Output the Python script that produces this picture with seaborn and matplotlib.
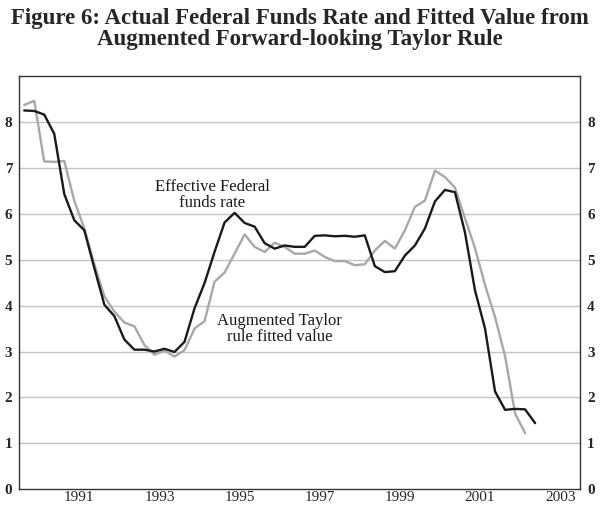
import pandas as pd
import matplotlib
matplotlib.use('Agg')
import matplotlib.pyplot as plt
import matplotlib.ticker as mtick
import seaborn as sns

# quarterly values, 1990Q1 onwards
fed_funds = [8.25, 8.24, 8.16, 7.74, 6.43, 5.86, 5.64, 4.82,
             4.02, 3.77, 3.26, 3.04, 3.04, 3.00, 3.06, 2.99,
             3.21, 3.94, 4.49, 5.17, 5.81, 6.02, 5.80, 5.72,
             5.36, 5.24, 5.31, 5.28, 5.28, 5.52, 5.53, 5.51,
             5.52, 5.50, 5.53, 4.86, 4.73, 4.75, 5.09, 5.31,
             5.68, 6.27, 6.52, 6.47, 5.59, 4.33, 3.50, 2.13,
             1.73, 1.75, 1.74, 1.44]
taylor_fit = [8.37, 8.46, 7.14, 7.13, 7.15, 6.28, 5.68, 4.90,
              4.20, 3.87, 3.63, 3.55, 3.14, 2.93, 3.02, 2.89,
              3.03, 3.50, 3.66, 4.52, 4.72, 5.13, 5.55, 5.28,
              5.17, 5.37, 5.28, 5.13, 5.13, 5.20, 5.06, 4.97,
              4.97, 4.88, 4.90, 5.20, 5.41, 5.24, 5.64, 6.15,
              6.29, 6.94, 6.80, 6.57, 5.90, 5.25, 4.45, 3.75,
              2.90, 1.65, 1.22]
start_quarter = '1990Q1'
year_labels = ['1991', '1993', '1995', '1997', '1999', '2001', '2003']

quarters = pd.period_range(start_quarter, periods=len(fed_funds), freq='Q')
df_ff = pd.DataFrame({'t': quarters.year + (quarters.quarter - 0.5) / 4, 'rate': fed_funds})
df_fit = pd.DataFrame({'t': df_ff['t'][:len(taylor_fit)], 'rate': taylor_fit})

sns.set_style('white')
plt.rcParams['font.family'] = ['Liberation Serif', 'DejaVu Serif']

fig = plt.figure(figsize=(6, 5.07), dpi=100)
ax = fig.add_axes([0.032, 0.035, 0.935, 0.815])

for y in range(1, 9):
    ax.axhline(y, color='#c4c4c4', linewidth=1.0, zorder=0)

sns.lineplot(data=df_fit, x='t', y='rate', color='#a8a8a8', linewidth=1.7, ax=ax)
sns.lineplot(data=df_ff, x='t', y='rate', color='#1a1a1a', linewidth=1.7, ax=ax)

ax.set_xlim(1990, 2004)
ax.set_ylim(0, 9)
ax.set_xlabel('')
ax.set_ylabel('')

# tick marks at year boundaries, labels centred in the year
ax.set_xticks(range(1991, 2004))
ax.set_xticklabels([])
ax.set_xticks([int(y) + 0.5 for y in year_labels], minor=True)
ax.set_xticklabels(year_labels, minor=True, fontsize=11)
ax.tick_params(axis='x', which='major', direction='in', length=8, width=1, color='#222222')
ax.tick_params(axis='x', which='minor', length=0, pad=1.5)

ax.set_yticks(range(0, 9))
ax.yaxis.set_major_formatter(mtick.FormatStrFormatter('%d'))
ax.tick_params(axis='y', length=0, pad=5, labelsize=11, labelright=True, right=True)
for lab in ax.get_yticklabels():
    lab.set_fontweight('bold')

for s in ax.spines.values():
    s.set_color('#333333')
    s.set_linewidth(1.0)

ax.text(1994.82, 6.40, 'Effective Federal\nfunds rate', ha='center', va='center',
        fontsize=12, linespacing=1.0, color='#1a1a1a')
ax.text(1996.49, 3.48, 'Augmented Taylor\nrule fitted value', ha='center', va='center',
        fontsize=12, linespacing=1.0, color='#1a1a1a')

fig.text(0.5, 0.985, 'Figure 6: Actual Federal Funds Rate and Fitted Value from\nAugmented Forward-looking Taylor Rule',
         ha='center', va='top', fontsize=16.5, fontweight='bold', linespacing=1.0)

fig.savefig('out.png', dpi=100)
